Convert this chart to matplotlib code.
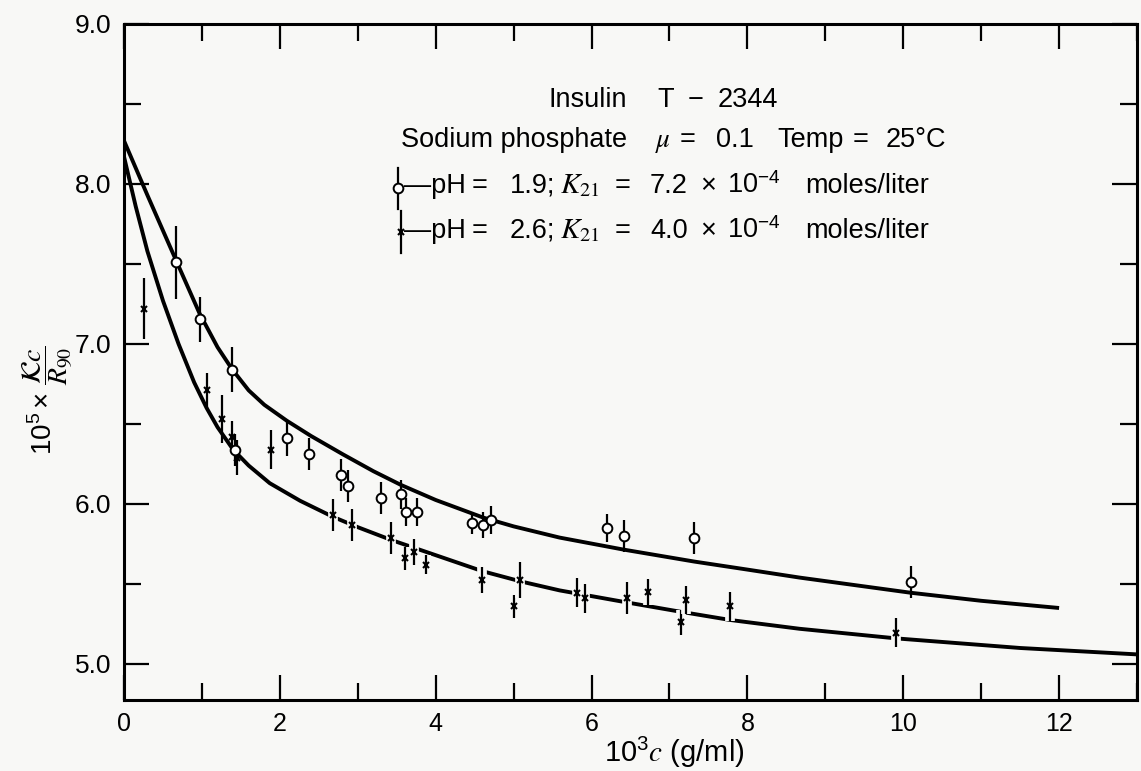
import numpy as np
import matplotlib.pyplot as plt
import matplotlib.patheffects as pe
from matplotlib.ticker import MultipleLocator, FormatStrFormatter

plt.rcParams['font.family'] = ['Liberation Sans', 'DejaVu Sans']
plt.rcParams['mathtext.fontset'] = 'stix'

# pH 1.9 (open circles)
c_circ = [0.67, 0.97, 1.39, 1.42, 2.09, 2.38, 2.79, 2.87, 3.30, 3.55,
          3.62, 3.76, 4.46, 4.61, 4.71, 6.20, 6.41, 7.32, 10.10]
kr_circ = [7.51, 7.155, 6.84, 6.34, 6.41, 6.31, 6.18, 6.11, 6.04, 6.06,
           5.95, 5.95, 5.88, 5.87, 5.90, 5.85, 5.80, 5.79, 5.51]
err_circ = [0.23, 0.14, 0.14, 0.10, 0.11, 0.10, 0.10, 0.10, 0.10, 0.09,
            0.09, 0.09, 0.07, 0.08, 0.09, 0.09, 0.10, 0.10, 0.10]

# pH 2.6 (crosses)
c_x = [0.26, 1.06, 1.26, 1.38, 1.45, 1.88, 2.68, 2.93, 3.43, 3.61, 3.72,
       3.88, 4.60, 5.01, 5.08, 5.81, 5.92, 6.45, 6.73, 7.15, 7.21, 7.78, 9.91]
kr_x = [7.22, 6.71, 6.53, 6.42, 6.29, 6.34, 5.93, 5.87, 5.79, 5.66, 5.70,
        5.62, 5.525, 5.36, 5.525, 5.445, 5.41, 5.41, 5.45, 5.26, 5.40, 5.36, 5.195]
err_x = [0.19, 0.11, 0.15, 0.10, 0.11, 0.12, 0.10, 0.10, 0.10, 0.07, 0.08,
         0.06, 0.08, 0.07, 0.11, 0.09, 0.09, 0.10, 0.08, 0.08, 0.09, 0.09, 0.09]

# fitted curves
upper_c = [0, 0.30, 0.67, 0.97, 1.20, 1.39, 1.60, 1.80, 2.09, 2.40, 2.81, 3.20,
           3.55, 4.00, 4.61, 5.00, 5.59, 6.41, 7.32, 8.00, 8.67, 10.10, 11.0, 12.0]
upper_kr = [8.27, 7.93, 7.52, 7.19, 6.98, 6.84, 6.71, 6.62, 6.52, 6.425, 6.31, 6.205,
            6.12, 6.025, 5.915, 5.86, 5.79, 5.715, 5.64, 5.59, 5.54, 5.445, 5.395, 5.35]
lower_c = [0, 0.15, 0.30, 0.50, 0.70, 0.90, 1.06, 1.20, 1.40, 1.60, 1.87, 2.26,
           2.68, 3.00, 3.43, 4.00, 4.60, 5.10, 5.59, 6.45, 7.10, 7.78, 8.67, 9.91,
           11.5, 13.0]
lower_kr = [8.17, 7.86, 7.58, 7.27, 7.00, 6.76, 6.60, 6.48, 6.34, 6.24, 6.13, 6.02,
            5.92, 5.855, 5.775, 5.68, 5.58, 5.515, 5.46, 5.385, 5.33, 5.275, 5.22, 5.16,
            5.10, 5.06]

bg = '#f8f8f6'
fig = plt.figure(figsize=(11.41, 7.71), dpi=100, facecolor=bg)
ax = fig.add_axes([0.1087, 0.0921, 0.8878, 0.8768], facecolor=bg)

ax.plot(upper_c, upper_kr, color='black', lw=2.8, solid_capstyle='butt',
        solid_joinstyle='round', zorder=2)
ax.plot(lower_c, lower_kr, color='black', lw=2.8, solid_capstyle='butt',
        solid_joinstyle='round', zorder=2)

# crosses; past c = 2.5 the drawn curve is broken where their bars cross it
cx, kx, ex = np.array(c_x), np.array(kr_x), np.array(err_x)
far = cx > 2.5
ax.errorbar(cx[~far], kx[~far], yerr=ex[~far], fmt='x', ms=5, mec='black', mew=1.5,
            ecolor='black', elinewidth=1.6, capsize=0, zorder=3)
eb = ax.errorbar(cx[far], kx[far], yerr=ex[far], fmt='x', ms=5, mec='black', mew=1.5,
                 ecolor='black', elinewidth=1.6, capsize=0, zorder=3)
for bars in eb[2]:
    bars.set_path_effects([pe.withStroke(linewidth=7, foreground=bg)])
ax.errorbar(c_circ, kr_circ, yerr=err_circ, fmt='o', ms=7, mfc='white', mec='black',
            mew=1.4, ecolor='black', elinewidth=1.6, capsize=0, zorder=4)

ax.set_xlim(0, 13)
ax.set_ylim(4.775, 9.0)
ax.xaxis.set_major_locator(MultipleLocator(2))
ax.xaxis.set_minor_locator(MultipleLocator(1))
ax.yaxis.set_major_locator(MultipleLocator(1))
ax.yaxis.set_minor_locator(MultipleLocator(0.5))
ax.yaxis.set_major_formatter(FormatStrFormatter('%.1f'))
ax.tick_params(which='both', direction='in', top=True, right=True, width=1.6)
ax.tick_params(which='major', length=18)
ax.tick_params(which='minor', length=12)
ax.tick_params(axis='x', labelsize=18, pad=9)
ax.tick_params(axis='y', labelsize=19, pad=9)
for s in ax.spines.values():
    s.set_linewidth(2.2)

ax.set_xlabel(r'$\mathregular{10^3}c$ (g/ml)', fontsize=21)
ax.xaxis.set_label_coords(0.543, -0.078)
ax.xaxis.label.set_va('center')
ax.set_ylabel(r'$\mathregular{10^5\times}\,\dfrac{\mathcal{K}c}{R_{90}}$', fontsize=20)
ax.yaxis.set_label_coords(-0.075, 0.444)
ax.yaxis.label.set_va('center')


# annotation block, positioned in pixels of the 1141x771 figure
def put(px, py, s, ha='left', size=19.5):
    ax.text((px - 124) / 1013, (700 - py) / 676, s, transform=ax.transAxes,
            fontsize=size, ha=ha, va='baseline')


put(548, 107, 'Insulin')
put(657, 107, 'T')
put(688, 107, '\u2212')
put(718, 107, '2344')

put(627, 147, 'Sodium phosphate', ha='right')
put(655, 147, r'$\mu$')
put(680, 147, '=')
put(716, 147, '0.1')
put(777, 147, 'Temp')
put(853, 147, '=')
put(886, 147, '25°C')

for py, ph, k in [(193, '1.9;', '7.2'), (238, '2.6;', '4.0')]:
    put(404, py, '\u2014pH')
    put(472, py, '=')
    put(510, py, ph)
    put(560, py, r'$K_{21}$', size=21)
    put(615, py, '=')
    put(650, py, k)
    put(700, py, '\u00d7')
    put(727, py, r'10$^{\mathregular{-4}}$')
    put(805, py, 'moles/liter')

# legend symbols
tx = ax.transAxes
ax.plot([0.2705, 0.2705], [0.727, 0.787], color='black', lw=1.6, transform=tx)
ax.plot([0.2705], [0.757], marker='o', ms=7, mfc='white', mec='black', mew=1.4, transform=tx)
ax.plot([0.2735, 0.2735], [0.661, 0.723], color='black', lw=1.6, transform=tx)
ax.plot([0.2735], [0.692], marker='x', ms=5, mec='black', mew=1.5, transform=tx)

fig.savefig('out.png', dpi=100, facecolor=bg)
